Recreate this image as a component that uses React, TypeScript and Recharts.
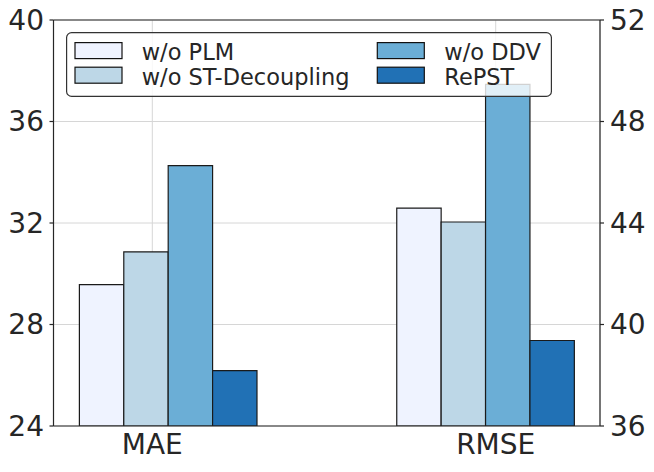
import React from 'react';
import { BarChart, Bar, XAxis, YAxis, CartesianGrid, Legend, ReferenceLine } from 'recharts';

const categories = ['MAE', 'RMSE'];
const seriesNames = ['w/o PLM', 'w/o ST-Decoupling', 'w/o DDV', 'RePST'];
const maeValues = [29.57, 30.86, 34.26, 26.18];
const rmseValues = [44.59, 44.04, 49.46, 39.37];
const colors = ['#eff3ff', '#bdd7e7', '#6baed6', '#2171b5'];
const leftTicks = [24, 28, 32, 36, 40];
const rightTicks = [36, 40, 44, 48, 52];
const catTicks = [0, 1];

const data = categories.map((c, i) => {
  const row: Record<string, number | string | null> = { x: i, name: c };
  seriesNames.forEach((_, j) => {
    row[`m${j}`] = i === 0 ? maeValues[j] : null;
    row[`r${j}`] = i === 1 ? rmseValues[j] : null;
  });
  return row;
});

const FONT = 'DejaVu Sans, Verdana, sans-serif';
const TEXT = '#262626';
const SPINE = '#262626';

const LegendBox = () => {
  const w = 486;
  const h = 65;
  const colSw = [9, 311.3];
  const colTx = [75.7, 378.3];
  const rowTop = [10.6, 35.2];
  const rowBase = [28.3, 53.3];
  return (
    <svg width={w} height={h} style={{ display: 'block', overflow: 'visible' }}>
      <rect x={0.6} y={0.6} width={w - 1.2} height={h - 1.2} rx={5} ry={5}
        fill="rgba(255,255,255,0.8)" stroke="#333333" strokeWidth={1.2} />
      {seriesNames.map((n, i) => {
        const col = Math.floor(i / 2);
        const row = i % 2;
        return (
          <g key={n}>
            <rect x={colSw[col]} y={rowTop[row]} width={47} height={16} fill={colors[i]}
              stroke="#111" strokeWidth={1.2} />
            <text x={colTx[col]} y={rowBase[row]} fontFamily={FONT} fontSize={22.5} fill={TEXT}>{n}</text>
          </g>
        );
      })}
    </svg>
  );
};

export default function App() {
  return (
    <div style={{ position: 'absolute', left: 0, top: 0, width: 654, height: 472, background: '#fff' }}>
      <BarChart width={654} height={472} data={data}
        margin={{ top: 20, right: 0, bottom: 16, left: 0 }} barGap={0}>
        <XAxis xAxisId="cat" type="number" dataKey="x" domain={[-0.2877, 1.3037]} allowDataOverflow
          ticks={catTicks} tickFormatter={(v: number) => categories[v]} height={30}
          axisLine={{ stroke: SPINE, strokeWidth: 1.2 }} tickLine={false} tickSize={6} tickMargin={2}
          tick={{ fontFamily: FONT, fontSize: 28, fill: TEXT }} interval={0} />
        <XAxis xAxisId="a" type="number" dataKey="x" domain={[-0.361, 1.361]} allowDataOverflow
          ticks={catTicks} hide height={0} />
        <XAxis xAxisId="b" type="number" dataKey="x" domain={[-0.361, 1.361]} allowDataOverflow
          ticks={catTicks} hide height={0} />
        <YAxis yAxisId="left" domain={[24, 40]} ticks={leftTicks} allowDataOverflow width={53.5}
          axisLine={{ stroke: SPINE, strokeWidth: 1.2 }} tickLine={{ stroke: SPINE, strokeWidth: 1.2 }}
          tickSize={4} tickMargin={5.5} interval={0}
          tick={{ fontFamily: FONT, fontSize: 28, fill: TEXT }} />
        <YAxis yAxisId="right" orientation="right" domain={[36, 52]} ticks={rightTicks} allowDataOverflow width={54}
          axisLine={{ stroke: SPINE, strokeWidth: 1.2 }} tickLine={{ stroke: SPINE, strokeWidth: 1.2 }}
          tickSize={4} tickMargin={6} interval={0}
          tick={{ fontFamily: FONT, fontSize: 28, fill: TEXT }} />
        <CartesianGrid xAxisId="cat" yAxisId="left" stroke="#d6d6d6" strokeWidth={1} />
        {seriesNames.map((n, j) => (
          <Bar key={`m${j}`} dataKey={`m${j}`} name={n} xAxisId="a" yAxisId="left" barSize={44.4}
            fill={colors[j]} stroke="#1a1a1a" strokeWidth={1.2} isAnimationActive={false} legendType="none" />
        ))}
        {seriesNames.map((n, j) => (
          <Bar key={`r${j}`} dataKey={`r${j}`} name={n} xAxisId="b" yAxisId="right" barSize={44.4}
            fill={colors[j]} stroke="#1a1a1a" strokeWidth={1.2} isAnimationActive={false} legendType="none" />
        ))}
        <ReferenceLine y={40} yAxisId="left" xAxisId="cat" stroke={SPINE} strokeWidth={1.2} />
        <Legend verticalAlign="middle" align="center" layout="horizontal" content={() => <LegendBox />}
          wrapperStyle={{ position: 'absolute', left: 66, top: 31.7, width: 486, height: 65 }} />
      </BarChart>
    </div>
  );
}
